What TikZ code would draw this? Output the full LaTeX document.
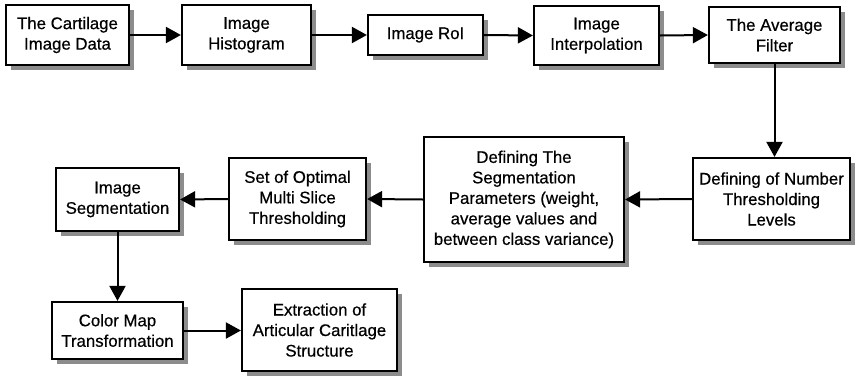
\documentclass[tikz,border=0pt]{standalone}
\usepackage{fontspec}
\setmainfont{Liberation Sans}[UprightFeatures={FakeBold=0.5}]
\usetikzlibrary{arrows.meta,shadows}
\begin{document}
\begin{tikzpicture}[x=1pt,y=-1pt,
  blk/.style={draw=black,line width=2.2pt,fill=white,align=center,inner sep=0pt,
    font=\fontsize{16.8}{20.5}\selectfont,
    drop shadow={shadow xshift=5pt,shadow yshift=-5pt,fill=black!45,opacity=1}},
  arr/.style={line width=2pt,-{Triangle[length=15pt,width=16pt]}}]
\useasboundingbox (0,0) rectangle (856,375);
\node[blk,minimum width=123pt,minimum height=60pt] (b1) at (67.5,35) {The Cartilage\\Image Data};
\node[blk,minimum width=129pt,minimum height=60pt] (b2) at (246.5,35) {Image\\Histogram};
\node[blk,minimum width=115pt,minimum height=40pt] (b3) at (425.5,35) {Image RoI};
\node[blk,minimum width=125pt,minimum height=59pt] (b4) at (596.5,35.5) {Image\\Interpolation};
\node[blk,minimum width=131pt,minimum height=56pt] (b5) at (774.5,35) {The Average\\Filter};
\node[blk,minimum width=157pt,minimum height=82pt] (b6) at (771.5,199) {Defining of Number\\Thresholding\\Levels};
\node[blk,minimum width=200pt,minimum height=125pt] (b7) at (524,199.5) {Defining The\\Segmentation\\Parameters (weight,\\average values and\\between class variance)};
\node[blk,minimum width=137pt,minimum height=82pt] (b8) at (297.5,199) {Set of Optimal\\Multi Slice\\Thresholding};
\node[blk,minimum width=123pt,minimum height=63pt] (b9) at (117.5,199.5) {Image\\Segmentation};
\node[blk,minimum width=131pt,minimum height=57pt] (b10) at (117.5,330.5) {Color Map\\Transformation};
\node[blk,minimum width=155pt,minimum height=82pt] (b11) at (319.5,330) {Extraction of\\Articular Caritlage\\Structure};
\draw[arr] (b1.east) -- (b2.west);
\draw[arr] (b2.east) -- (b3.west);
\draw[arr] (b3.east) -- (b4.west);
\draw[arr] (b4.east) -- (b5.west);
\draw[arr] (b5.south) -- (b5.south |- b6.north);
\draw[arr] (b6.west) -- (b7.east);
\draw[arr] (b7.west) -- (b8.east);
\draw[arr] (b8.west) -- (b9.east);
\draw[arr] (b9.south) -- (b10.north);
\draw[arr] (b10.east) -- (b10.east -| b11.west);
\end{tikzpicture}
\end{document}
